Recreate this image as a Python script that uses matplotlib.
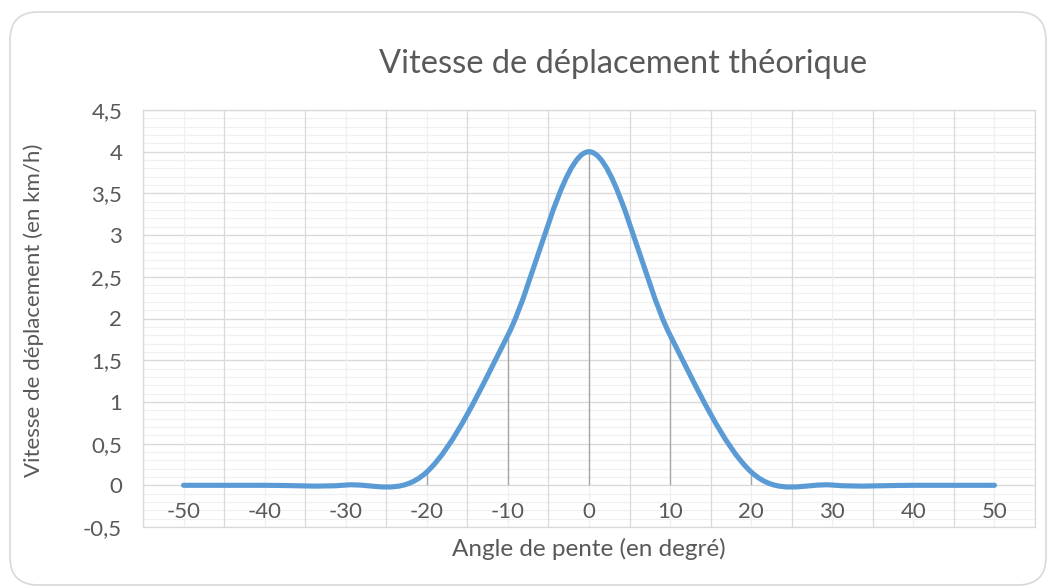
import numpy as np
import matplotlib
matplotlib.use("Agg")
import matplotlib.pyplot as plt
from matplotlib.patches import FancyBboxPatch
from matplotlib.path import Path
from matplotlib.patches import PathPatch
from matplotlib.transforms import IdentityTransform

# data
angles = [-50, -40, -30, -20, -10, 0, 10, 20, 30, 40, 50]
speeds = [0, 0, 0.003, 0.16, 1.8, 4.0, 1.8, 0.16, 0.003, 0, 0]
y_ticks = [-0.5, 0, 0.5, 1, 1.5, 2, 2.5, 3, 3.5, 4, 4.5]

title = "Vitesse de déplacement théorique"
xlabel = "Angle de pente (en degré)"
ylabel = "Vitesse de déplacement (en km/h)"

plt.rcParams['font.family'] = ['Lato', 'DejaVu Sans']
txt_col = "#595959"
line_col = "#5B9BD5"


def smooth_path(xs, ys):
    # excel-like smoothed line: bezier segments with catmull-rom tangents
    pts = np.column_stack([xs, ys]).astype(float)
    n = len(pts)
    verts = [pts[0]]
    codes = [Path.MOVETO]
    for i in range(n - 1):
        p0 = pts[i - 1] if i > 0 else pts[i]
        p1 = pts[i]
        p2 = pts[i + 1]
        p3 = pts[i + 2] if i + 2 < n else pts[i + 1]
        c1 = p1 + (p2 - p0) / 6
        c2 = p2 - (p3 - p1) / 6
        verts += [c1, c2, p2]
        codes += [Path.CURVE4] * 3
    return Path(verts, codes)


fig = plt.figure(figsize=(10.51, 5.88), dpi=100)

# chart frame
frame = FancyBboxPatch((10, 3), 1036, 573, boxstyle="round,pad=0,rounding_size=28",
                       transform=IdentityTransform(), fc="white", ec="#d9d9d9", lw=1.2,
                       zorder=-10)
fig.patches.append(frame)

ax = fig.add_axes([143 / 1051, 1 - 527 / 588, (1035 - 143) / 1051, (527 - 110) / 588])
ax.set_xlim(-55, 55)
ax.set_ylim(-0.5, 4.5)
ax.patch.set_alpha(0)

# gridlines
for v in np.arange(-0.5, 4.51, 0.1):
    ax.axhline(v, color="#f0f0f0", lw=0.9, zorder=0)
for v in y_ticks:
    ax.axhline(v, color="#d9d9d9", lw=0.9, zorder=0.5)
for v in angles:
    ax.axvline(v, color="#f0f0f0", lw=0.9, zorder=0.6)
for v in np.arange(-55, 56, 10):
    ax.axvline(v, color="#d9d9d9", lw=0.9, zorder=0.7)

for s in ax.spines.values():
    s.set_color("#d9d9d9")
    s.set_linewidth(0.9)

# drop lines
ax.vlines(angles, 0, speeds, color="#a6a6a6", lw=1.0, zorder=1)

ax.add_patch(PathPatch(smooth_path(angles, speeds), fc="none", ec=line_col,
                       lw=3.7, capstyle="round", joinstyle="round", zorder=3))

ax.set_yticks(y_ticks)
ax.set_yticklabels([("%g" % v).replace(".", ",") for v in y_ticks])
ax.set_xticks([])
ax.tick_params(axis="y", length=0, pad=15, labelsize=16, labelcolor=txt_col)

for a in angles:
    ax.text(a, -0.32, str(a), ha="center", va="center", fontsize=16, color=txt_col)

ax.set_ylabel(ylabel, fontsize=16, color=txt_col)
ax.yaxis.set_label_coords(-(143 - 44) / 892, 0.52)
fig.text(589 / 1051, 1 - 549 / 588, xlabel, ha="center", va="center", fontsize=17.5, color=txt_col)
fig.text(623 / 1051, 1 - 64 / 588, title, ha="center", va="center", fontsize=23.5,
         color=txt_col)

fig.savefig("out.png", dpi=100)
